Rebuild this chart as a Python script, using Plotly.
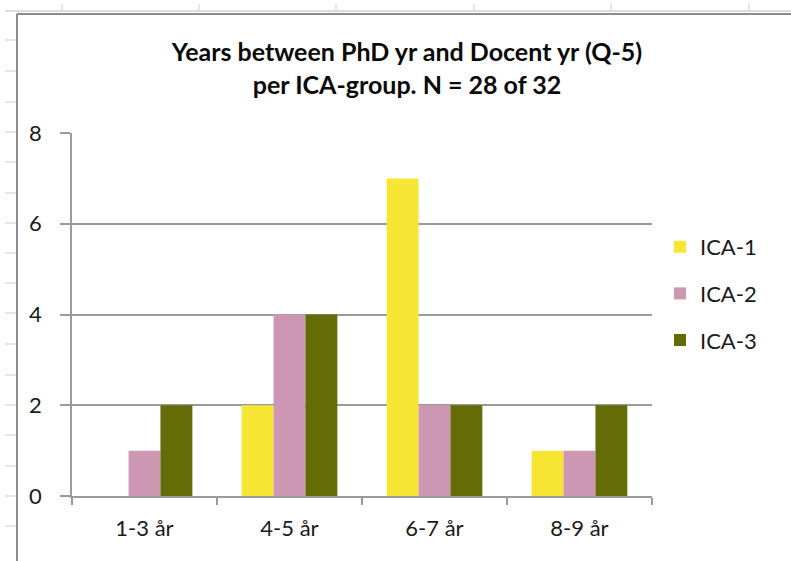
import plotly.graph_objects as go

categories = ["1-3 år", "4-5 år", "6-7 år", "8-9 år"]
ica1 = [0, 2, 7, 1]
ica2 = [1, 4, 2, 1]
ica3 = [2, 4, 2, 2]
series_names = ["ICA-1", "ICA-2", "ICA-3"]
colors = ["#F6E532", "#CD97B4", "#646C07"]
y_ticks = [0, 2, 4, 6, 8]
title_text = "<b>Years between PhD yr and Docent yr (Q-5)<br>per ICA-group. N = 28 of 32</b>"

W, H = 791, 561
X0, X1 = 72, 652
YT, YB = 133, 496
FONT = "Lato, Open Sans, sans-serif"


def px(x):
    return (x - X0) / (X1 - X0)


def py(y):
    return (YB - y) / (YB - YT)


fig = go.Figure()
for i, (name, vals) in enumerate(zip(series_names, [ica1, ica2, ica3])):
    fig.add_trace(go.Bar(
        x=categories, y=vals, name=name, legendgroup=name,
        marker=dict(color=colors[i], line=dict(width=0)),
    ))

shapes = []
grid_c = "#dcdcdc"
# spreadsheet background grid
shapes.append(dict(type="line", xref="paper", yref="paper",
                   x0=px(5), x1=px(800), y0=py(11), y1=py(11),
                   line=dict(color=grid_c, width=2), layer="below"))
for gx in [62, 199, 336, 474, 611, 749]:
    shapes.append(dict(type="line", xref="paper", yref="paper",
                       x0=px(gx), x1=px(gx), y0=py(4), y1=py(11),
                       line=dict(color=grid_c, width=1.5), layer="below"))
for gy in [40, 71, 102, 132, 162, 193, 223, 253, 283, 313, 344, 375, 405, 435, 466, 496, 526]:
    shapes.append(dict(type="line", xref="paper", yref="paper",
                       x0=px(5), x1=px(16), y0=py(gy), y1=py(gy),
                       line=dict(color=grid_c, width=1.5), layer="below"))
# chart frame
shapes.append(dict(type="line", xref="paper", yref="paper",
                   x0=px(17), x1=px(17), y0=py(14), y1=py(570),
                   line=dict(color="#8c8c8c", width=2)))
shapes.append(dict(type="line", xref="paper", yref="paper",
                   x0=px(17), x1=px(800), y0=py(14), y1=py(14),
                   line=dict(color="#8c8c8c", width=2)))

fig.update_layout(
    width=W, height=H,
    margin=dict(l=X0, r=W - X1, t=YT, b=H - YB, pad=0),
    paper_bgcolor="white", plot_bgcolor="white",
    barmode="group", bargap=0.34, bargroupgap=0,
    font=dict(family=FONT, size=22, color="#1a1a1a"),
    title=dict(text=title_text, xref="container", yref="container",
               x=407 / W, y=1 - 61 / H, xanchor="center", yanchor="middle",
               font=dict(family=FONT, size=25, color="#0a0a0a")),
    showlegend=True,
    legend=dict(x=px(660), y=py(226), xanchor="left", yanchor="top",
                font=dict(family=FONT, size=22, color="#1a1a1a"),
                tracegroupgap=15, itemwidth=30, bgcolor="rgba(0,0,0,0)"),
    xaxis=dict(
        showline=True, linecolor="#9a9a9a", linewidth=1.5,
        ticks="outside", tickson="boundaries", ticklen=7, tickcolor="#9a9a9a",
        tickwidth=1.5, showgrid=False, tickfont=dict(size=22),
        ticklabelstandoff=12,
    ),
    yaxis=dict(
        range=[0, 8], tickvals=y_ticks, showline=True, linecolor="#9a9a9a",
        linewidth=1.5, ticks="outside", ticklen=10, tickcolor="#9a9a9a",
        tickwidth=1.5, showgrid=True, gridcolor="#9a9a9a", gridwidth=1.5,
        zeroline=False, tickfont=dict(size=22), ticklabelstandoff=14,
    ),
    shapes=shapes,
)

fig.write_html("out.html", config={"displayModeBar": False},
               post_script="document.body.style.margin='0';")
